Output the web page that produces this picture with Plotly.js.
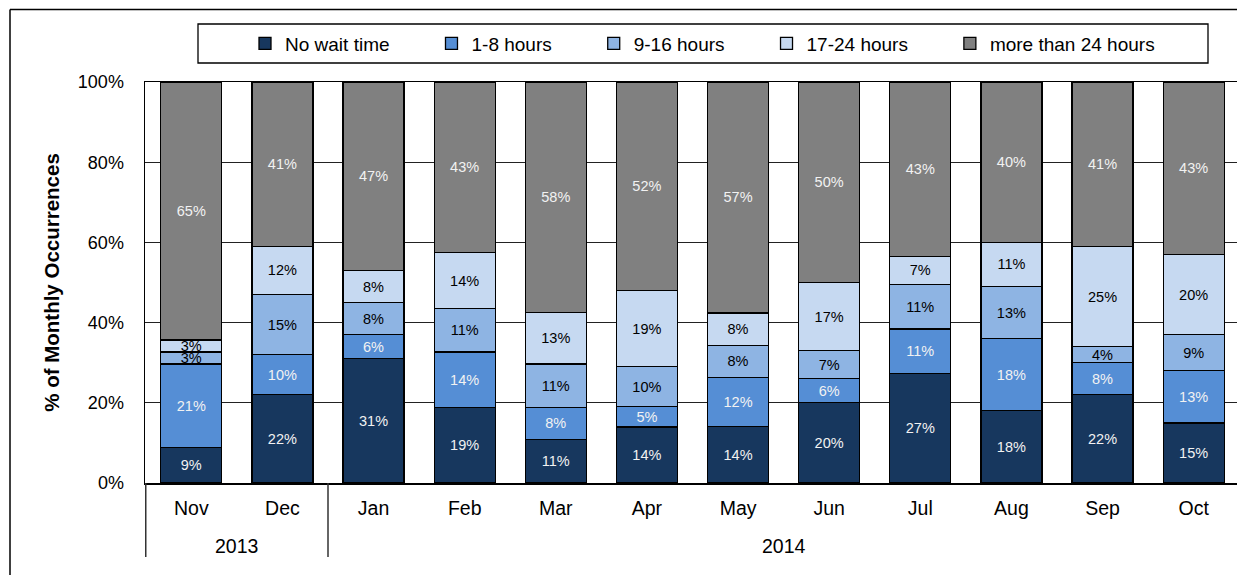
<!DOCTYPE html>
<html>
<head>
<meta charset="utf-8">
<script src="https://cdn.plot.ly/plotly-3.0.1.min.js"></script>
<style>
html,body{margin:0;padding:0;overflow:hidden;background:#fff;}
#chart{width:1243px;height:575px;}
</style>
</head>
<body>
<div id="chart"></div>
<script>
const years  = ['2013','2013','2014','2014','2014','2014','2014','2014','2014','2014','2014','2014'];
const months = ['Nov','Dec','Jan','Feb','Mar','Apr','May','Jun','Jul','Aug','Sep','Oct'];

const noWait   = [9, 22, 31, 19, 11, 14, 14, 20, 27, 18, 22, 15];
const h1to8    = [21, 10, 6, 14, 8, 5, 12, 6, 11, 18, 8, 13];
const h9to16   = [3, 15, 8, 11, 11, 10, 8, 7, 11, 13, 4, 9];
const h17to24  = [3, 12, 8, 14, 13, 19, 8, 17, 7, 11, 25, 20];
const over24   = [65, 41, 47, 43, 58, 52, 57, 50, 43, 40, 41, 43];

const seriesNames  = ['No wait time','1-8 hours','9-16 hours','17-24 hours','more than 24 hours'];
const seriesData   = [noWait, h1to8, h9to16, h17to24, over24];
const seriesColors = ['#17375E','#558ED5','#8EB4E3','#C6D9F1','#808080'];
const labelColors  = ['#F2F2F2','#F2F2F2','#000000','#000000','#F2F2F2'];

const FONT = 'Liberation Sans, Arial, sans-serif';
const PADNAME = '\u00a0'.repeat(7);

const traces = seriesData.map((vals, i) => ({
  type: 'bar',
  name: seriesNames[i] + (i < seriesNames.length - 1 ? PADNAME : ''),
  x: months,
  y: vals,
  text: vals.map(v => v + '%'),
  texttemplate: '%{text}',
  textposition: 'inside',
  insidetextanchor: 'middle',
  textangle: 0,
  constraintext: 'none',
  textfont: {family: FONT, size: 14.5, color: labelColors[i]},
  marker: {color: seriesColors[i], line: {color: '#000000', width: 1.3}},
  hoverinfo: 'skip'
}));

// plot area in px: x 145..1240, y 82..483
const PL = 145, PR = 1240, PT = 82, PB = 483;
const px = v => (v - PL) / (PR - PL);
const py = v => (PB - v) / (PB - PT);

// year group labels and dividers, derived from the years array
const groups = [];
years.forEach((yr, i) => {
  const g = groups[groups.length - 1];
  if (g && g.year === yr) g.end = i; else groups.push({year: yr, start: i, end: i});
});
const annotations = groups.map(g => ({
  xref: 'x', yref: 'paper',
  x: (g.start + g.end) / 2, y: py(546),
  text: g.year, showarrow: false,
  xanchor: 'center', yanchor: 'middle',
  font: {family: FONT, size: 19.5, color: '#000'}
}));
const dividerPos = [-0.5].concat(groups.map(g => g.end + 0.5));
const dividers = dividerPos.map(d => ({
  type: 'line', xref: 'x', yref: 'paper',
  x0: d, x1: d, y0: 0, y1: py(557),
  line: {color: '#333', width: 1.5}
}));

const layout = {
  width: 1243, height: 575,
  margin: {l: PL, r: 1243 - PR, t: PT, b: 575 - PB, pad: 0},
  paper_bgcolor: '#ffffff',
  plot_bgcolor: '#ffffff',
  barmode: 'stack',
  barnorm: 'percent',
  bargap: 0.33,
  font: {family: FONT, size: 18, color: '#000000'},
  showlegend: true,
  legend: {
    orientation: 'h',
    x: px(245), xanchor: 'left',
    y: py(43.5), yanchor: 'middle',
    traceorder: 'normal',
    font: {family: FONT, size: 19, color: '#000'},
    bgcolor: 'rgba(0,0,0,0)', borderwidth: 0
  },
  xaxis: {
    type: 'category',
    showline: true, linecolor: '#000', linewidth: 1.5,
    mirror: true,
    ticks: '',
    showgrid: false,
    ticklabelstandoff: 7,
    tickfont: {family: FONT, size: 19.5, color: '#000'}
  },
  yaxis: {
    range: [0, 100], dtick: 20, ticksuffix: '%',
    showline: true, linecolor: '#000', linewidth: 1.5, mirror: true,
    showgrid: true, gridcolor: '#222', gridwidth: 1.2,
    zeroline: false,
    ticks: '', ticklabelstandoff: 16,
    tickfont: {family: FONT, size: 18, color: '#000'},
    title: {text: '% of Monthly Occurrences', font: {family: FONT, size: 20.5, color: '#000', weight: 'bold'}, standoff: 12}
  },
  annotations: annotations,
  shapes: [
    {type: 'line', xref: 'paper', yref: 'paper', x0: px(10), x1: px(10), y0: py(9.5), y1: py(580), line: {color: '#000', width: 1.5}},
    {type: 'line', xref: 'paper', yref: 'paper', x0: px(10), x1: px(1250), y0: py(9.5), y1: py(9.5), line: {color: '#000', width: 1.5}},
    {type: 'rect', xref: 'paper', yref: 'paper', x0: px(198), x1: px(1208), y0: py(63), y1: py(24), line: {color: '#000', width: 1.3}, fillcolor: 'rgba(0,0,0,0)'}
  ].concat(dividers)
};

Plotly.newPlot('chart', traces, layout, {displayModeBar: false, staticPlot: true});
</script>
</body>
</html>
